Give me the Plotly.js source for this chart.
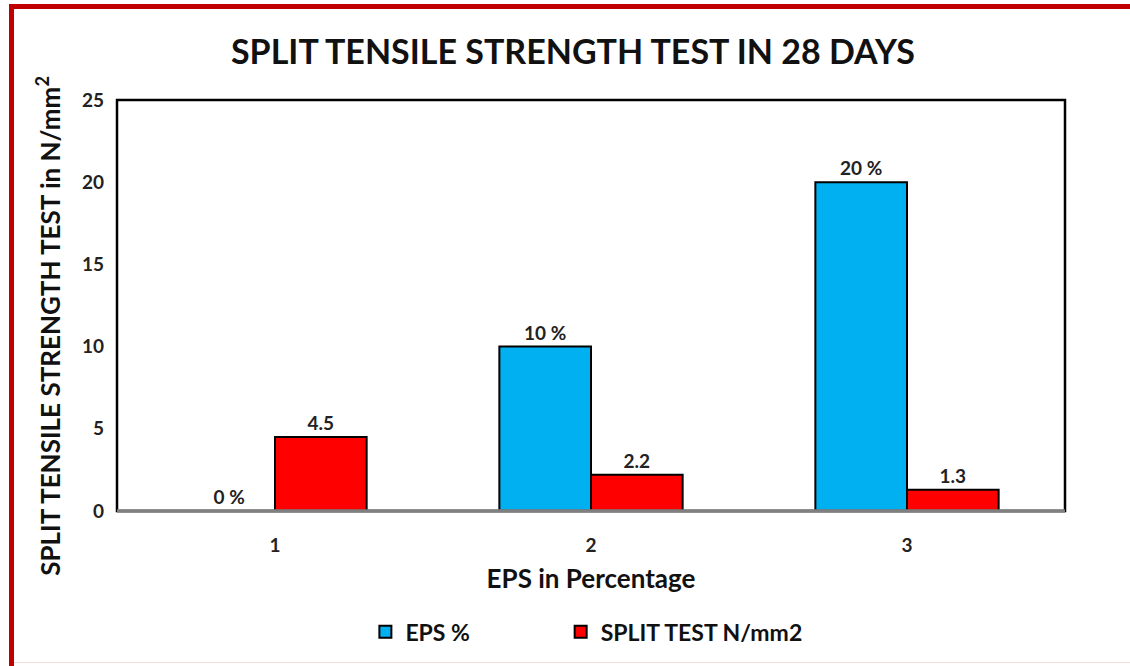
<!DOCTYPE html>
<html><head><meta charset="utf-8">
<script src="https://cdn.plot.ly/plotly-3.0.1.min.js"></script>
<style>
html,body{margin:0;padding:0;background:#fff;}
#frame{position:absolute;left:0;top:0;width:1130px;height:666px;overflow:hidden;}
#bt{position:absolute;left:9px;top:4px;width:1121px;height:5px;background:#C00000;}
#bl{position:absolute;left:9px;top:4px;width:5px;height:662px;background:#C00000;}
#bb{position:absolute;left:14px;top:662px;width:1116px;height:1px;background:#f0dcdc;}
#chart{position:absolute;left:0;top:0;width:1130px;height:666px;}
</style></head>
<body><div id="frame"><div id="chart"></div><div id="bt"></div><div id="bl"></div><div id="bb"></div></div>
<script>
const categories = ['1','2','3'];
const epsPercent = [0, 10, 20];
const splitTest = [4.5, 2.2, 1.3];
const epsLabels = ['0 %', '10 %', '20 %'];
const splitLabels = ['4.5', '2.2', '1.3'];
const yTicks = [0, 5, 10, 15, 20, 25];

const FONT = 'Lato, "Open Sans", sans-serif';
const textFont = {family: FONT, size: 19, color: '#222', weight: 'bold'};
const legendFont = {family: FONT, size: 23, weight: 'bold', color: '#111'};

const traces = [
  {type:'bar', name:'EPS %', x:categories, y:epsPercent, text:epsLabels, legend:'legend',
   textposition:'outside', textfont:textFont, cliponaxis:false,
   marker:{color:'#00B0F0', line:{color:'#000', width:2}}},
  {type:'bar', name:'SPLIT TEST N/mm2', x:categories, y:splitTest, text:splitLabels, legend:'legend2',
   textposition:'outside', textfont:textFont, cliponaxis:false,
   marker:{color:'#FF0000', line:{color:'#000', width:2}}}
];

const layout = {
  width:1130, height:666,
  margin:{l:117, r:65, t:100, b:155},
  paper_bgcolor:'rgba(0,0,0,0)', plot_bgcolor:'#fff',
  barmode:'group', bargap:0.42, bargroupgap:0,
  font:{family:FONT, color:'#222'},
  title:{text:'SPLIT TENSILE STRENGTH TEST IN 28 DAYS', x:0.507, xanchor:'center', y:0.922, yanchor:'middle',
         font:{family:FONT, size:34, weight:'bold', color:'#111'}},
  xaxis:{type:'category', showgrid:false, zeroline:false, ticks:'', showline:false,
         tickfont:{family:FONT, size:19, weight:'bold', color:'#222'}, ticklabelstandoff:21,
         title:{text:'EPS in Percentage', standoff:14, font:{family:FONT, size:26, weight:'bold', color:'#111'}}},
  yaxis:{range:[0,25], tickvals:yTicks, showgrid:false, zeroline:false, ticks:'', showline:false,
         tickfont:{family:FONT, size:19, weight:'bold', color:'#222'}, ticklabelstandoff:12},
  annotations:[
    {text:'SPLIT TENSILE STRENGTH TEST in N/mm<sup>2</sup>', xref:'paper', yref:'paper',
     x:-0.073, y:0.45, xanchor:'center', yanchor:'middle', textangle:-90, showarrow:false,
     font:{family:FONT, size:26, weight:'bold', color:'#111'}}
  ],
  showlegend:true,
  legend:{orientation:'h', x:0.262, xanchor:'left', y:-0.294, yanchor:'middle', itemwidth:30, font:legendFont},
  legend2:{orientation:'h', x:0.468, xanchor:'left', y:-0.294, yanchor:'middle', itemwidth:30, font:legendFont},
  shapes:[
    {type:'rect', xref:'paper', yref:'paper', x0:0, x1:1, y0:0, y1:1, line:{color:'#000', width:2.5}, layer:'above'},
    {type:'line', xref:'paper', yref:'paper', x0:0, x1:1, y0:0, y1:0, line:{color:'#808080', width:3.5}, layer:'above'}
  ]
};
Plotly.newPlot('chart', traces, layout, {displayModeBar:false});
</script></body></html>
